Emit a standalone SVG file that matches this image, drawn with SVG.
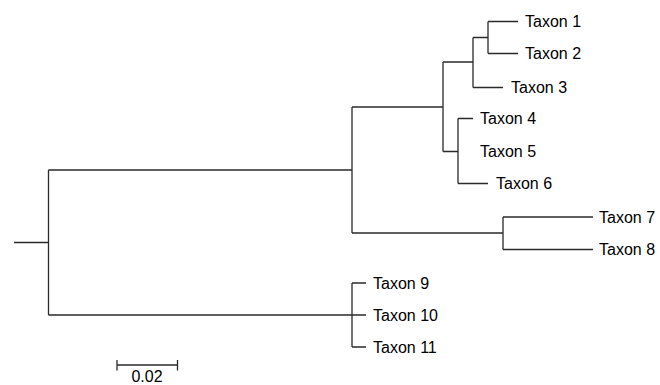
<svg xmlns="http://www.w3.org/2000/svg" width="660" height="385" viewBox="0 0 660 385">
<style>
.e{fill:none;stroke:#2a2a2a;stroke-width:1.3}
.t{font-family:"Liberation Sans",Arial,sans-serif;font-size:16px;fill:#000}
</style>
<rect width="660" height="385" fill="#fff"/>
<g id="edges">
<path class="e" d="M14,242.5H48.5M48.5,170V315M48.5,170H352M48.5,315H352"/>
<path class="e" d="M352,107V233M352,107H443M352,233H503"/>
<path class="e" d="M443,62V151.5M443,62H473M443,151.5H458"/>
<path class="e" d="M473,37.5V87.5M473,37.5H488M473,87.5H503"/>
<path class="e" d="M488,21.5V53.5M488,21.5H518M488,53.5H518"/>
<path class="e" d="M458,118.5V183.5M458,118.5H473M458,183.5H488"/>
<path class="e" d="M503,217V249.5M503,217H593M503,249.5H593"/>
<path class="e" d="M352,283V347M352,283H366M352,315H366M352,347H366"/>
</g>
<g id="taxon1"><text class="t" x="525" y="27">Taxon 1</text></g>
<g id="taxon2"><text class="t" x="525" y="59">Taxon 2</text></g>
<g id="taxon3"><text class="t" x="511" y="93">Taxon 3</text></g>
<g id="taxon4"><text class="t" x="480" y="124">Taxon 4</text></g>
<g id="taxon5"><text class="t" x="480" y="157">Taxon 5</text></g>
<g id="taxon6"><text class="t" x="496" y="189">Taxon 6</text></g>
<g id="taxon7"><text class="t" x="599" y="222.5">Taxon 7</text></g>
<g id="taxon8"><text class="t" x="599" y="255">Taxon 8</text></g>
<g id="taxon9"><text class="t" x="373" y="288.5">Taxon 9</text></g>
<g id="taxon10"><text class="t" x="373" y="320.5">Taxon 10</text></g>
<g id="taxon11"><text class="t" x="373" y="352.5">Taxon 11</text></g>
<g id="scalebar">
<path class="e" d="M117,365H177.5M117,360V370.5M177.5,360V370.5"/>
<text class="t" x="147" y="381.5" text-anchor="middle" font-size="14px">0.02</text>
</g>
</svg>
